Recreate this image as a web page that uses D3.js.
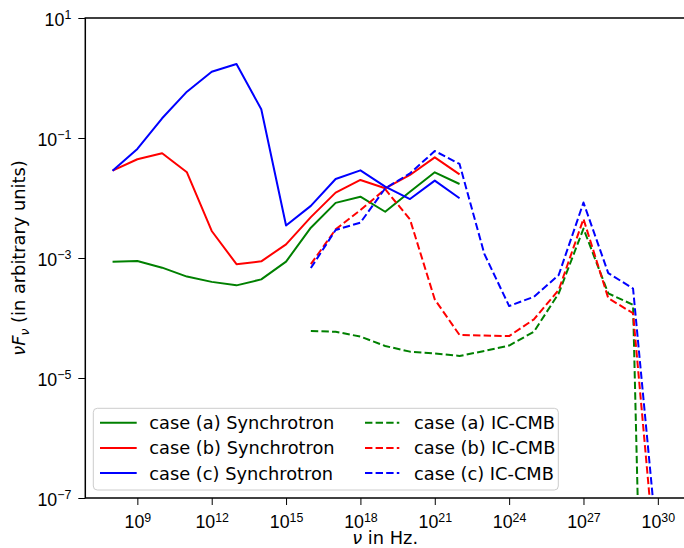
<!DOCTYPE html>
<html>
<head>
<meta charset="utf-8">
<script src="https://cdn.jsdelivr.net/npm/d3@7/dist/d3.min.js"></script>
<style>
  html, body { margin: 0; padding: 0; background: #fff; }
  svg { display: block; font-family: "DejaVu Sans", sans-serif; }
</style>
</head>
<body>
<svg id="chart" width="684" height="548"></svg>
<script>
// Frequencies (log10 of nu in Hz) for the two spectral components
const syncExp = [8, 9, 10, 11, 12, 13, 14, 15, 16, 17, 18, 19, 20, 21, 22];
const icExp   = [16, 17, 18, 19, 20, 21, 22, 23, 24, 25, 26, 27, 28, 29, 30];

// nu F_nu, arbitrary units
const syncA = [8.7e-4, 8.9e-4, 6.9e-4, 4.9e-4, 4.0e-4, 3.5e-4, 4.4e-4, 8.7e-4, 3.2e-3, 8.3e-3, 1.05e-2, 5.9e-3, 1.27e-2, 2.68e-2, 1.71e-2];
const syncB = [2.85e-2, 4.42e-2, 5.56e-2, 2.68e-2, 2.82e-3, 7.9e-4, 8.8e-4, 1.69e-3, 4.8e-3, 1.23e-2, 2.0e-2, 1.45e-2, 2.42e-2, 4.76e-2, 2.48e-2];
const syncC = [2.85e-2, 6.56e-2, 0.213, 0.592, 1.27, 1.71, 0.301, 3.47e-3, 7.4e-3, 2.07e-2, 2.89e-2, 1.55e-2, 9.6e-3, 1.95e-2, 9.9e-3];
const icA   = [6.07e-5, 5.9e-5, 4.9e-5, 3.41e-5, 2.75e-5, 2.57e-5, 2.33e-5, 2.82e-5, 3.47e-5, 5.9e-5, 2.57e-4, 3.09e-3, 2.57e-4, 1.66e-4, 1e-21];
const icB   = [7.9e-4, 3.0e-3, 6.3e-3, 1.40e-2, 4.4e-3, 2.04e-4, 5.2e-5, 5.1e-5, 5.0e-5, 9.5e-5, 2.93e-4, 4.47e-3, 2.14e-4, 1.20e-4, 3e-9];
const icC   = [6.8e-4, 2.93e-3, 3.89e-3, 1.45e-2, 2.57e-2, 6.07e-2, 3.69e-2, 1.17e-3, 1.58e-4, 2.26e-4, 5.2e-4, 8.4e-3, 5.6e-4, 3.1e-4, 1.3e-8];

const xTickExp = [9, 12, 15, 18, 21, 24, 27, 30];
const yTickExp = [1, -1, -3, -5, -7];

const seriesNames = ["case (a) Synchrotron", "case (b) Synchrotron", "case (c) Synchrotron",
                     "case (a) IC-CMB", "case (b) IC-CMB", "case (c) IC-CMB"];
const colors = ["#008000", "#ff0000", "#0000ff"];

const series = [
  { name: seriesNames[0], exps: syncExp, vals: syncA, color: colors[0], dashed: false },
  { name: seriesNames[1], exps: syncExp, vals: syncB, color: colors[1], dashed: false },
  { name: seriesNames[2], exps: syncExp, vals: syncC, color: colors[2], dashed: false },
  { name: seriesNames[3], exps: icExp,   vals: icA,   color: colors[0], dashed: true },
  { name: seriesNames[4], exps: icExp,   vals: icB,   color: colors[1], dashed: true },
  { name: seriesNames[5], exps: icExp,   vals: icC,   color: colors[2], dashed: true }
];

const svg = d3.select("#chart");
const pL = 85.3, pR = 685.1, pT = 18, pB = 498;

const x = d3.scaleLog().domain([Math.pow(10, 6.9), Math.pow(10, 31.1)]).range([pL, pR]);
const y = d3.scaleLog().domain([1e-7, 10]).range([pB, pT]);

const dash = "7.4,3.2";
const fontSize = 17.8;
const supSize = 12.4;

svg.append("defs").append("clipPath").attr("id", "plotClip")
  .append("rect").attr("x", pL).attr("y", pT).attr("width", pR - pL).attr("height", pB - pT);

// Curves
const line = d3.line()
  .x(d => x(Math.pow(10, d[0])))
  .y(d => y(d[1]));

const plot = svg.append("g").attr("clip-path", "url(#plotClip)");
series.forEach(s => {
  plot.append("path")
    .datum(s.exps.map((e, i) => [e, s.vals[i]]))
    .attr("d", line)
    .attr("fill", "none")
    .attr("stroke", s.color)
    .attr("stroke-width", 2)
    .attr("stroke-linejoin", "round")
    .attr("stroke-dasharray", s.dashed ? dash : null);
});

// Axes with power-of-ten labels
function powLabel(sel, e) {
  sel.text(null);
  sel.append("tspan").text("10");
  sel.append("tspan")
    .attr("dy", -6.5)
    .attr("font-size", supSize)
    .text(e < 0 ? "\u2212" + Math.abs(e) : String(e));
}

const xAxis = d3.axisBottom(x)
  .tickValues(xTickExp.map(e => Math.pow(10, e)))
  .tickSize(7).tickPadding(5)
  .tickFormat("");
const gx = svg.append("g").attr("transform", `translate(0,${pB})`).call(xAxis);
gx.select(".domain").remove();
gx.selectAll(".tick line").attr("stroke", "#000").attr("stroke-width", 1);
gx.selectAll(".tick").each(function(d) {
  const e = Math.round(Math.log10(d));
  d3.select(this).append("text")
    .attr("y", 30)
    .attr("x", 0)
    .attr("text-anchor", "middle")
    .attr("fill", "#000")
    .attr("font-size", fontSize)
    .call(powLabel, e);
});

const yAxis = d3.axisLeft(y)
  .tickValues(yTickExp.map(e => Math.pow(10, e)))
  .tickSize(7).tickPadding(5)
  .tickFormat("");
const gy = svg.append("g").attr("transform", `translate(${pL},0)`).call(yAxis);
gy.select(".domain").remove();
gy.selectAll(".tick line").attr("stroke", "#000").attr("stroke-width", 1);
gy.selectAll(".tick").each(function(d) {
  const e = Math.round(Math.log10(d));
  d3.select(this).append("text")
    .attr("x", -14)
    .attr("y", 7)
    .attr("text-anchor", "end")
    .attr("fill", "#000")
    .attr("font-size", fontSize)
    .call(powLabel, e);
});

// Frame
svg.append("rect")
  .attr("x", pL).attr("y", pT)
  .attr("width", pR - pL).attr("height", pB - pT)
  .attr("fill", "none").attr("stroke", "#000").attr("stroke-width", 1.5);

// Axis titles
const xl = svg.append("text")
  .attr("x", (pL + pR) / 2).attr("y", 544)
  .attr("text-anchor", "middle").attr("font-size", fontSize);
xl.append("tspan").attr("font-style", "italic").text("\u03bd");
xl.append("tspan").text(" in Hz.");

const yl = svg.append("text")
  .attr("transform", `translate(24.5,258) rotate(-90)`)
  .attr("text-anchor", "middle").attr("font-size", fontSize);
yl.append("tspan").attr("font-style", "italic").text("\u03bdF");
yl.append("tspan").attr("font-style", "italic").attr("font-size", supSize).attr("dy", 4).text("\u03bd");
yl.append("tspan").attr("dy", -4).text(" (in arbitrary units)");

// Legend
const lg = svg.append("g");
lg.append("rect")
  .attr("x", 93.3).attr("y", 408.3)
  .attr("width", 465).attr("height", 81.7)
  .attr("rx", 4).attr("ry", 4)
  .attr("fill", "#fff").attr("fill-opacity", 0.8)
  .attr("stroke", "#cccccc").attr("stroke-width", 1);

const rowY = [422.7, 447.9, 473.1];
const colX = [{ h0: 100, h1: 136.7, t: 149.3 }, { h0: 365, h1: 399.3, t: 414 }];
series.forEach((s, i) => {
  const c = colX[Math.floor(i / 3)];
  const ry = rowY[i % 3];
  lg.append("line")
    .attr("x1", c.h0).attr("x2", c.h1).attr("y1", ry).attr("y2", ry)
    .attr("stroke", s.color).attr("stroke-width", 2)
    .attr("stroke-dasharray", s.dashed ? dash : null);
  lg.append("text")
    .attr("x", c.t).attr("y", ry + 6.5)
    .attr("font-size", fontSize).attr("fill", "#000")
    .text(s.name);
});
</script>
</body>
</html>
